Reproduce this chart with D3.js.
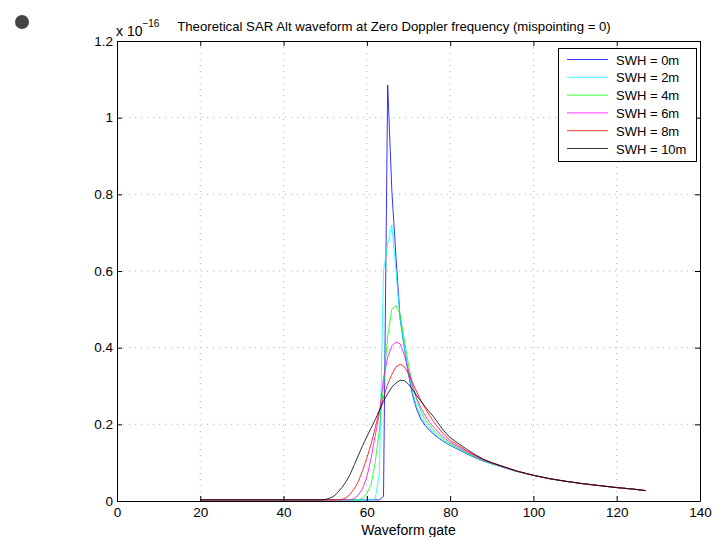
<!DOCTYPE html>
<html>
<head>
<meta charset="utf-8">
<script src="https://cdn.jsdelivr.net/npm/d3@7"></script>
<style>
  body { margin: 0; background: #fff; }
  text { font-family: "Liberation Sans", Arial, sans-serif; fill: #000; }
</style>
</head>
<body>
<div id="chart"></div>
<script>
var width = 715;
var height = 537;

// waveform gates (shared by all series)
var gates = [20, 40,
  48, 49, 50, 51, 52, 53, 54, 55, 56, 57, 58, 59, 60, 61, 62, 63, 64,
  65, 66, 67, 68, 69, 70, 71, 72, 73, 74, 75, 76, 77, 78, 79, 80,
  82, 84, 86, 88, 90, 93, 96, 100, 104, 108, 112, 116, 120, 124, 127];

// power, units of 1e-16
var swh0 = [0.003, 0.003,
  0.003, 0.003, 0.003, 0.003, 0.003, 0.003, 0.003, 0.003, 0.003, 0.003, 0.003, 0.003, 0.003, 0.003, 0.003, 0.003, 0.012,
  1.085, 0.81, 0.635, 0.475, 0.40, 0.33, 0.275, 0.238, 0.213, 0.197, 0.185, 0.175, 0.166, 0.158, 0.151, 0.145,
  0.134, 0.123, 0.113, 0.104, 0.097, 0.087, 0.077, 0.067, 0.058, 0.051, 0.045, 0.040, 0.035, 0.031, 0.027];
var swh2 = [0.003, 0.003,
  0.003, 0.003, 0.003, 0.003, 0.003, 0.003, 0.003, 0.003, 0.003, 0.003, 0.003, 0.003, 0.003, 0.003, 0.006, 0.07, 0.60,
  0.67, 0.72, 0.60, 0.475, 0.40, 0.335, 0.283, 0.245, 0.22, 0.203, 0.19, 0.178, 0.168, 0.16, 0.152, 0.146,
  0.136, 0.124, 0.114, 0.105, 0.097, 0.087, 0.077, 0.067, 0.058, 0.051, 0.045, 0.040, 0.035, 0.031, 0.027];
var swh4 = [0.003, 0.003,
  0.003, 0.003, 0.003, 0.003, 0.003, 0.003, 0.003, 0.003, 0.003, 0.003, 0.003, 0.008, 0.02, 0.042, 0.10, 0.185, 0.30,
  0.43, 0.50, 0.51, 0.485, 0.42, 0.355, 0.30, 0.262, 0.233, 0.213, 0.198, 0.185, 0.174, 0.165, 0.156, 0.149,
  0.138, 0.126, 0.115, 0.106, 0.098, 0.088, 0.078, 0.067, 0.058, 0.051, 0.045, 0.040, 0.035, 0.031, 0.027];
var swh6 = [0.003, 0.003,
  0.003, 0.003, 0.003, 0.003, 0.003, 0.003, 0.003, 0.003, 0.003, 0.007, 0.016, 0.033, 0.063, 0.11, 0.17, 0.228, 0.32,
  0.375, 0.405, 0.415, 0.41, 0.38, 0.34, 0.30, 0.268, 0.243, 0.223, 0.207, 0.193, 0.181, 0.171, 0.161, 0.153,
  0.141, 0.128, 0.117, 0.107, 0.099, 0.088, 0.078, 0.067, 0.058, 0.051, 0.045, 0.040, 0.035, 0.031, 0.027];
var swh8 = [0.003, 0.003,
  0.003, 0.003, 0.003, 0.003, 0.003, 0.003, 0.004, 0.008, 0.018, 0.032, 0.052, 0.08, 0.112, 0.148, 0.19, 0.235, 0.27,
  0.305, 0.33, 0.35, 0.357, 0.35, 0.332, 0.308, 0.284, 0.262, 0.242, 0.224, 0.207, 0.193, 0.18, 0.168, 0.158,
  0.145, 0.131, 0.119, 0.108, 0.10, 0.089, 0.078, 0.067, 0.058, 0.051, 0.045, 0.040, 0.035, 0.031, 0.027];
var swh10 = [0.003, 0.003,
  0.003, 0.003, 0.004, 0.007, 0.012, 0.022, 0.035, 0.05, 0.07, 0.095, 0.12, 0.145, 0.168, 0.19, 0.212, 0.236, 0.26,
  0.28, 0.297, 0.308, 0.315, 0.314, 0.305, 0.29, 0.275, 0.26, 0.246, 0.233, 0.22, 0.205, 0.19, 0.177, 0.165,
  0.15, 0.135, 0.121, 0.109, 0.10, 0.089, 0.078, 0.067, 0.058, 0.051, 0.045, 0.040, 0.035, 0.031, 0.027];

var seriesNames = ["SWH = 0m", "SWH = 2m", "SWH = 4m", "SWH = 6m", "SWH = 8m", "SWH = 10m"];
var seriesValues = [swh0, swh2, swh4, swh6, swh8, swh10];
var seriesColors = ["#0000ff", "#00ffff", "#00ff00", "#ff00ff", "#ff0000", "#000000"];

var xTicks = [0, 20, 40, 60, 80, 100, 120, 140];
var yTicks = [0, 0.2, 0.4, 0.6, 0.8, 1, 1.2];

var svg = d3.select("#chart")
  .append("svg")
  .attr("width", width)
  .attr("height", height);

//marker dot top left
svg.append("circle")
  .attr("cx", 22).attr("cy", 22).attr("r", 7)
  .attr("fill", "#444");

var plotLeft = 117, plotRight = 700, plotTop = 41, plotBottom = 501;

var x = d3.scaleLinear().domain([0, 140]).range([plotLeft, plotRight]);
var y = d3.scaleLinear().domain([0, 1.2]).range([plotBottom, plotTop]);

//grid
var grid = svg.append("g").attr("class", "grid");
grid.selectAll(".vgrid")
  .data(xTicks.slice(1, -1))
  .enter().append("line")
  .attr("x1", function(d) { return x(d); })
  .attr("x2", function(d) { return x(d); })
  .attr("y1", plotTop).attr("y2", plotBottom)
  .attr("stroke", "#b0b0b0")
  .attr("stroke-width", 1)
  .attr("stroke-dasharray", "1,5");
grid.selectAll(".hgrid")
  .data(yTicks.slice(1, -1))
  .enter().append("line")
  .attr("y1", function(d) { return y(d); })
  .attr("y2", function(d) { return y(d); })
  .attr("x1", plotLeft).attr("x2", plotRight)
  .attr("stroke", "#b0b0b0")
  .attr("stroke-width", 1)
  .attr("stroke-dasharray", "1,5");

//lines
var line = d3.line()
  .x(function(d, i) { return x(gates[i]); })
  .y(function(d) { return y(d); });

svg.append("g")
  .selectAll("path")
  .data(seriesValues)
  .enter().append("path")
  .attr("d", function(d) { return line(d); })
  .attr("fill", "none")
  .attr("stroke", function(d, i) { return seriesColors[i]; })
  .attr("stroke-width", 0.8)
  .attr("stroke-linejoin", "round");

//axes (MATLAB style, ticks inward)
var xAxis = d3.axisBottom(x).tickValues(xTicks).tickSizeInner(-5).tickSizeOuter(0).tickPadding(6)
  .tickFormat(d3.format("d"));
var xAxisTop = d3.axisTop(x).tickValues(xTicks).tickSizeInner(-5).tickSizeOuter(0).tickFormat("");
var yAxis = d3.axisLeft(y).tickValues(yTicks).tickSizeInner(-5).tickSizeOuter(0).tickPadding(4)
  .tickFormat(function(d) { return d3.format("~g")(d); });
var yAxisRight = d3.axisRight(y).tickValues(yTicks).tickSizeInner(-5).tickSizeOuter(0).tickFormat("");

function styleAxis(g) {
  g.select(".domain").attr("stroke", "#000").attr("stroke-width", 1);
  g.selectAll(".tick line").attr("stroke", "#000");
  g.selectAll(".tick text")
    .style("font-family", "'Liberation Sans', Arial, sans-serif")
    .style("font-size", "13.5px")
    .attr("fill", "#000");
}

svg.append("g").attr("transform", "translate(0," + plotBottom + ")").call(xAxis).call(styleAxis);
svg.append("g").attr("transform", "translate(0," + plotTop + ")").call(xAxisTop).call(styleAxis);
svg.append("g").attr("transform", "translate(" + plotLeft + ",0)").call(yAxis).call(styleAxis);
svg.append("g").attr("transform", "translate(" + plotRight + ",0)").call(yAxisRight).call(styleAxis);

//exponent label
var expo = svg.append("text")
  .attr("x", 116).attr("y", 36)
  .style("font-size", "14px");
expo.append("tspan").text("x 10");
expo.append("tspan").attr("dy", -9).style("font-size", "10px").text("\u221216");

//title
svg.append("text")
  .attr("x", 394).attr("y", 31)
  .attr("text-anchor", "middle")
  .style("font-size", "13.2px")
  .text("Theoretical SAR Alt waveform at Zero Doppler frequency (mispointing = 0)");

//x label
svg.append("text")
  .attr("x", (plotLeft + plotRight) / 2).attr("y", 535)
  .attr("text-anchor", "middle")
  .style("font-size", "14px")
  .text("Waveform gate");

//legend
var legend = svg.append("g").attr("class", "legend");
legend.append("rect")
  .attr("x", 558.5).attr("y", 48.5)
  .attr("width", 138).attr("height", 113)
  .attr("fill", "#fff")
  .attr("stroke", "#000")
  .attr("stroke-width", 1);

var rows = legend.selectAll(".row")
  .data(seriesNames)
  .enter().append("g")
  .attr("transform", function(d, i) { return "translate(0," + (59.5 + i * 17.8) + ")"; });
rows.append("line")
  .attr("x1", 567).attr("x2", 608)
  .attr("stroke", function(d, i) { return seriesColors[i]; })
  .attr("stroke-width", 0.8);
rows.append("text")
  .attr("x", 616).attr("y", 5)
  .style("font-size", "13px")
  .text(function(d) { return d; });
</script>
</body>
</html>
